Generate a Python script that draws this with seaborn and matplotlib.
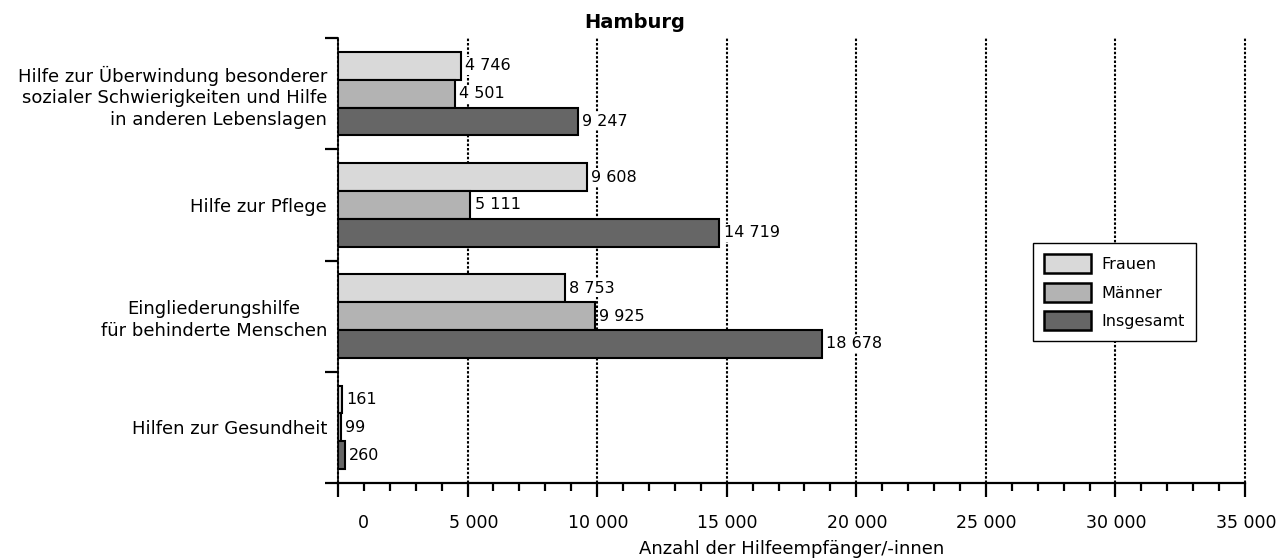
import matplotlib
matplotlib.use("Agg")
import matplotlib.pyplot as plt
from matplotlib.transforms import ScaledTranslation
from matplotlib.ticker import MultipleLocator
import seaborn as sns
import pandas as pd

# Leistungsarten (top to bottom)
categories = [
    "Hilfe zur Überwindung besonderer\nsozialer Schwierigkeiten und Hilfe\nin anderen Lebenslagen",
    "Hilfe zur Pflege",
    "Eingliederungshilfe\nfür behinderte Menschen",
    "Hilfen zur Gesundheit",
]
groups = ["Frauen", "Männer", "Insgesamt"]
frauen = [4746, 9608, 8753, 161]
maenner = [4501, 5111, 9925, 99]
insgesamt = [9247, 14719, 18678, 260]
x_ticks = [0, 5000, 10000, 15000, 20000, 25000, 30000, 35000]

colors = {"Frauen": "#d9d9d9", "Männer": "#b3b3b3", "Insgesamt": "#666666"}

df = pd.DataFrame({
    "Kategorie": categories * 3,
    "Gruppe": [g for g in groups for _ in categories],
    "Anzahl": frauen + maenner + insgesamt,
})

sns.set_style("white")
plt.rcParams["font.family"] = ["DejaVu Sans"]
plt.rcParams["text.color"] = "black"
plt.rcParams["axes.labelcolor"] = "black"
plt.rcParams["xtick.color"] = "black"
plt.rcParams["ytick.color"] = "black"

fig = plt.figure(figsize=(12.78, 5.6), dpi=100)
ax = fig.add_axes([338 / 1278, 1 - 483 / 560, (1245 - 338) / 1278, (483 - 38) / 560])

sns.barplot(
    data=df, x="Anzahl", y="Kategorie", hue="Gruppe",
    order=categories, hue_order=groups, palette=colors,
    orient="h", width=0.75, edgecolor="black", linewidth=1.5,
    ax=ax, legend=True,
)

def fmt(v):
    return f"{v:,}".replace(",", " ")

for container, vals in zip(ax.containers, [frauen, maenner, insgesamt]):
    texts = ax.bar_label(container, labels=[fmt(v) for v in vals], padding=3,
                         fontsize=11.5, color="black")
    for t in texts:
        t.set_bbox(dict(facecolor="white", edgecolor="none", pad=1.0))

# x axis
ax.set_xlim(0, 35000)
ax.set_xticks(x_ticks)
ax.set_xticklabels([fmt(v) for v in x_ticks], fontsize=12.5)
ax.xaxis.set_minor_locator(MultipleLocator(1000))
ax.tick_params(axis="x", which="major", direction="out", length=10, width=1.6,
               color="black", pad=12, bottom=True, labelcolor="black")
ax.tick_params(axis="x", which="minor", direction="out", length=5.5, width=1.6,
               color="black", bottom=True)
shift = ScaledTranslation(31 / 100, 0, fig.dpi_scale_trans)
for lbl in ax.get_xticklabels():
    lbl.set_horizontalalignment("right")
    lbl.set_transform(lbl.get_transform() + shift)
ax.set_xlabel("Anzahl der Hilfeempfänger/-innen", fontsize=13, labelpad=6, color="black")

# y axis: ticks on group boundaries, labels at group centres
ax.set_ylim(len(categories) - 0.5, -0.5)
ax.set_yticks([i - 0.5 for i in range(len(categories) + 1)])
ax.set_yticklabels([])
ax.set_yticks(range(len(categories)), minor=True)
ax.set_yticklabels(categories, minor=True, fontsize=13)
ax.tick_params(axis="y", which="major", direction="out", length=9.5, width=1.6,
               color="black", left=True)
ax.tick_params(axis="y", which="minor", length=0, pad=8, left=True, labelcolor="black")
for lbl in ax.get_yticklabels(minor=True):
    lbl.set_linespacing(1.25)
    if lbl.get_text().startswith("Eingliederung"):
        lbl.set_multialignment("center")
ax.set_ylabel("")

# dotted vertical grid
ax.set_axisbelow(True)
ax.xaxis.grid(True, which="major", color="black", linewidth=1.5, linestyle=(0, (1.2, 0.9)))
for gl in ax.get_xgridlines():
    gl.set_clip_on(False)
ax.yaxis.grid(False)

for side in ("top", "right"):
    ax.spines[side].set_visible(False)
ax.spines["left"].set_color("black")
ax.spines["left"].set_linewidth(1.2)
ax.spines["bottom"].set_color("black")
ax.spines["bottom"].set_linewidth(1.6)

fig.text(0.497, 1 - 22 / 560, "Hamburg", ha="center", va="center",
         fontsize=14, fontweight="bold", color="black")

leg = ax.legend(
    loc="upper left", bbox_to_anchor=(1033 / 1278, 1 - 243 / 560),
    bbox_transform=fig.transFigure, borderaxespad=0, fontsize=11.5,
    frameon=True, fancybox=False, framealpha=1, edgecolor="black",
    handlelength=2.9, handleheight=1.45, handletextpad=0.7,
    labelspacing=0.6, borderpad=0.7, title=None,
)
leg.get_frame().set_linewidth(1.0)
for h in leg.legend_handles:
    h.set_edgecolor("black")
    h.set_linewidth(1.8)
for t in leg.get_texts():
    t.set_color("black")

fig.savefig("out.png", dpi=100)
